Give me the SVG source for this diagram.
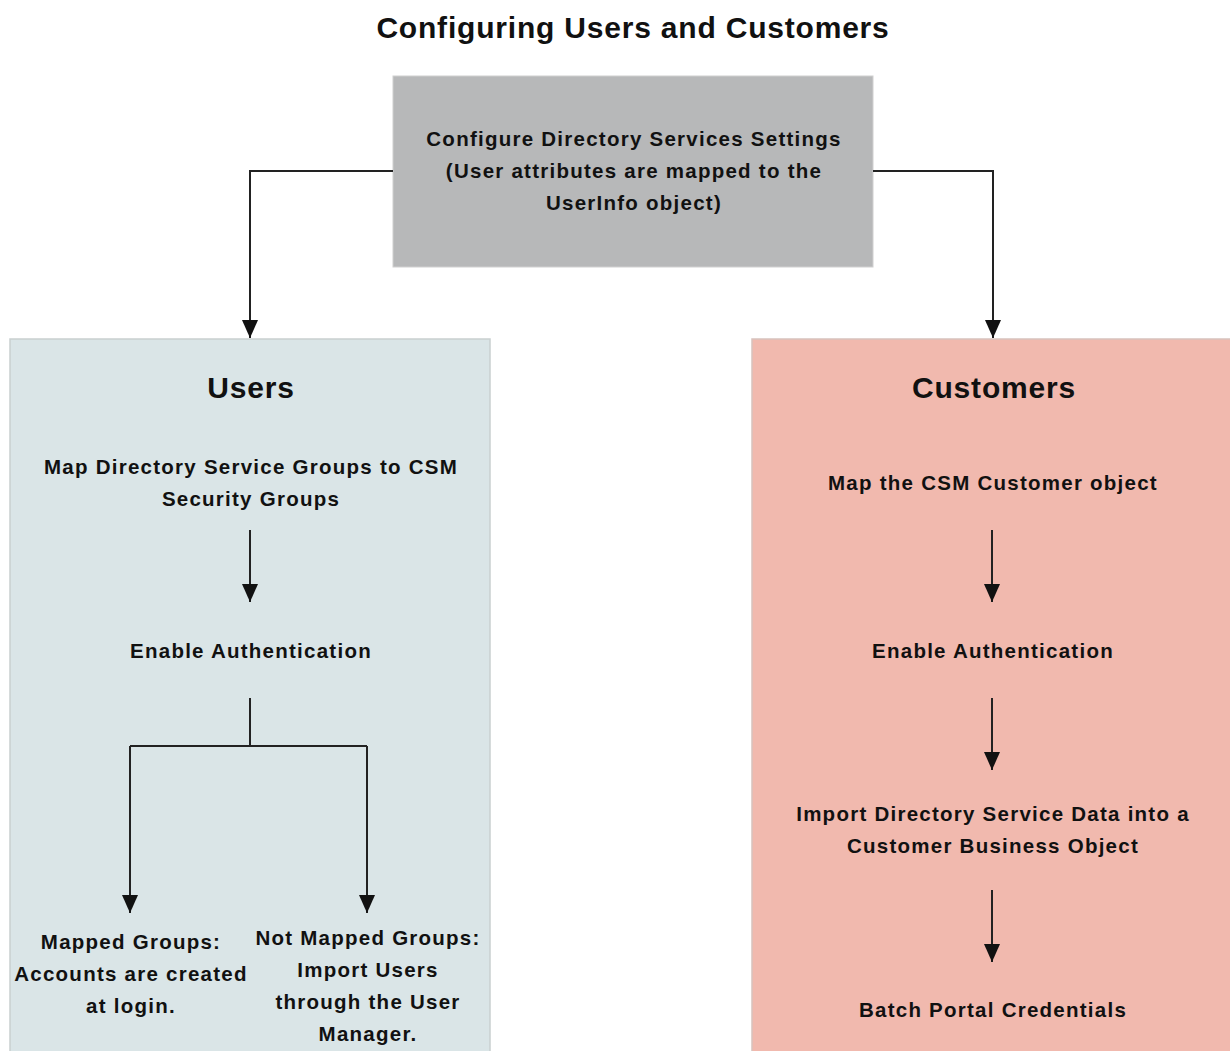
<svg xmlns="http://www.w3.org/2000/svg" width="1230" height="1051" viewBox="0 0 1230 1051">
<defs>
<marker id="arr" markerWidth="16" markerHeight="18" refX="8" refY="18" orient="0" markerUnits="userSpaceOnUse">
<path d="M0,0 L16,0 L8,18 Z" fill="#111"/>
</marker>
<style>
text{font-family:"Liberation Sans",Arial,sans-serif;font-weight:bold;fill:#111;text-anchor:middle}
.t{font-size:30px;letter-spacing:0.8px}
.h{font-size:30px;letter-spacing:0.8px}
.b{font-size:20.5px;letter-spacing:1.25px}
.c{fill:none;stroke:#222;stroke-width:2}
</style>
</defs>
<rect width="1230" height="1051" fill="#fff"/>
<text class="t" x="633" y="38">Configuring Users and Customers</text>
<g id="top">
<rect x="393" y="76" width="480" height="191" fill="#b7b8b9" stroke="#d0d0d0" stroke-width="1"/>
<text class="b" x="634" y="146">Configure Directory Services Settings</text>
<text class="b" x="634" y="178">(User attributes are mapped to the</text>
<text class="b" x="634" y="210">UserInfo object)</text>
</g>
<g id="users">
<rect x="10" y="339" width="480" height="720" fill="#dae5e7" stroke="#c9cfd0" stroke-width="1.5"/>
<text class="h" x="251" y="398">Users</text>
<text class="b" x="251" y="474">Map Directory Service Groups to CSM</text>
<text class="b" x="251" y="506">Security Groups</text>
<text class="b" x="251" y="658">Enable Authentication</text>
<text class="b" x="131" y="949">Mapped Groups:</text>
<text class="b" x="131" y="981">Accounts are created</text>
<text class="b" x="131" y="1013">at login.</text>
<text class="b" x="368" y="945">Not Mapped Groups:</text>
<text class="b" x="368" y="977">Import Users</text>
<text class="b" x="368" y="1009">through the User</text>
<text class="b" x="368" y="1041">Manager.</text>
</g>
<g id="customers">
<rect x="752" y="339" width="490" height="720" fill="#f1b9ae" stroke="#d8c2bd" stroke-width="1.5"/>
<text class="h" x="994" y="398">Customers</text>
<text class="b" x="993" y="490">Map the CSM Customer object</text>
<text class="b" x="993" y="658">Enable Authentication</text>
<text class="b" x="993" y="821">Import Directory Service Data into a</text>
<text class="b" x="993" y="853">Customer Business Object</text>
<text class="b" x="993" y="1017">Batch Portal Credentials</text>
</g>
<g id="connectors">
<path class="c" d="M393,171 H250 V338" marker-end="url(#arr)"/>
<path class="c" d="M873,171 H993 V338" marker-end="url(#arr)"/>
<path class="c" d="M250,530 V602" marker-end="url(#arr)"/>
<path class="c" d="M250,698 V746 M130,746 H367"/>
<path class="c" d="M130,746 V913" marker-end="url(#arr)"/>
<path class="c" d="M367,746 V913" marker-end="url(#arr)"/>
<path class="c" d="M992,530 V602" marker-end="url(#arr)"/>
<path class="c" d="M992,698 V770" marker-end="url(#arr)"/>
<path class="c" d="M992,890 V962" marker-end="url(#arr)"/>
</g>
</svg>
